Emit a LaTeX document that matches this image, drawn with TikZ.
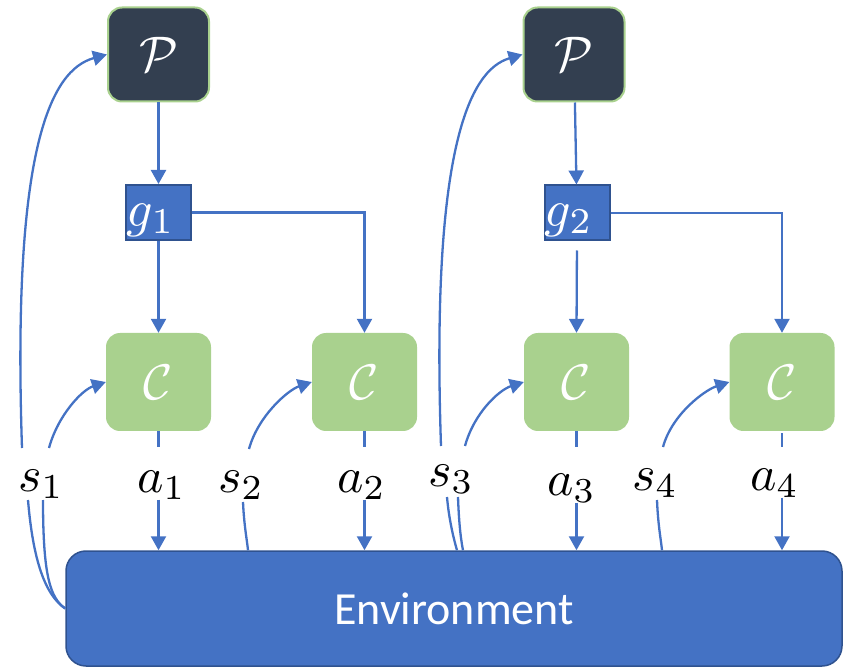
\documentclass[tikz,border=0pt]{standalone}
\usepackage{fontspec}
\newfontfamily\envfont{Carlito}
\usetikzlibrary{arrows.meta,calc}
\definecolor{lineblue}{HTML}{4472C4}
\definecolor{darkblue}{HTML}{2F528F}
\definecolor{softgreen}{HTML}{A9D18E}
\definecolor{navy}{HTML}{333F50}
\newcommand{\sizedmath}[2]{\scalebox{#1}{$#2$}}
\tikzset{
  conn/.style={draw=lineblue, line width=2.3pt},
  arr/.style={conn, -{Triangle[length=14pt,width=15pt]}},
  pbox/.style={fill=navy, draw=softgreen, line width=2pt, rounded corners=14pt,
    minimum width=101pt, minimum height=94pt, text=white, inner sep=0pt},
  cbox/.style={fill=softgreen, rounded corners=14pt, minimum width=105pt,
    minimum height=98pt, text=white, inner sep=0pt},
  gbox/.style={fill=lineblue, draw=darkblue, line width=2pt, minimum width=65pt,
    minimum height=55pt, inner sep=0pt},
  gtext/.style={text=white, inner sep=0pt},
  envbox/.style={fill=lineblue, draw=darkblue, line width=1.5pt, rounded corners=20pt,
    text=white, font=\envfont\fontsize{46}{50}\selectfont},
  lab/.style={anchor=base west, inner sep=0pt}
}
\begin{document}
\begin{tikzpicture}[x=1pt,y=-1pt]
\path[use as bounding box] (0,0) rectangle (844,668);

% policy and goal nodes
\node[pbox] (P1) at (158.5,54.5) {\sizedmath{5}{\mathcal{P}}};
\node[pbox] (P2) at (574,54.5) {\sizedmath{5}{\mathcal{P}}};
\node[gbox] (g1) at (158.5,212.5) {};
\node[gbox] (g2) at (577,213) {};
\node[gtext] (g1t) at (151,220) {\sizedmath{5.2}{g_1}};
\node[gtext] (g2t) at (569,220) {\sizedmath{5.2}{g_2}};

% controllers
\node[cbox] (C1) at (158.5,382) {\sizedmath{5}{\mathcal{C}}};
\node[cbox] (C2) at (364.5,382) {\sizedmath{5}{\mathcal{C}}};
\node[cbox] (C3) at (576.5,382) {\sizedmath{5}{\mathcal{C}}};
\node[cbox] (C4) at (782,382) {\sizedmath{5}{\mathcal{C}}};

% environment
\node[envbox, minimum width=776pt, minimum height=115pt] (env) at (454,608.5) {Environment};

% labels
\node[lab] (s1) at (18,491) {\sizedmath{5}{s_1}};
\node[lab] (a1) at (137,492) {\sizedmath{5}{a_1}};
\node[lab] (s2) at (218,492) {\sizedmath{5}{s_2}};
\node[lab] (a2) at (337,492) {\sizedmath{5}{a_2}};
\node[lab] (s3) at (428,486) {\sizedmath{5}{s_3}};
\node[lab] (a3) at (547,495) {\sizedmath{5}{a_3}};
\node[lab] (s4) at (632,490) {\sizedmath{5}{s_4}};
\node[lab] (a4) at (750,490) {\sizedmath{5}{a_4}};

% policy -> goal -> controllers
\draw[arr] (P1) -- (g1);
\draw[arr] (P2) -- (g2);
\draw[arr] (g1) -- (C1);
\draw[arr] (g1.east) -| (C2.north);
\draw[arr, shorten <=9pt] (g2.south) -- (C3.north);
\draw[arr] (g2.east) -| (C4.north);

% controller -> action -> environment
\draw[conn] (C1.south) -- ++(0,16);
\draw[conn] (C2.south) -- ++(0,16);
\draw[conn] (C3.south) -- ++(0,16);
\draw[conn] ([yshift=-2pt]C4.south) -- ++(0,14);
\draw[arr] (C1.south |- a1.south) -- (C1.south |- env.north);
\draw[arr] (C2.south |- a2.south) -- (C2.south |- env.north);
\draw[arr] (C3.south |- a3.south) -- (C3.south |- env.north);
\draw[arr] (C4.south |- a4.south) -- (C4.south |- env.north);

% states -> policy / controllers
\draw[arr] ($(s1.base west)+(4,-43)$) .. controls (12,150) and (50,70) .. (P1.west);
\draw[arr] ($(s3.base west)+(13,-40)$) .. controls (431,150) and (469,70) .. (P2.west);
\draw[arr] ($(s1.base west)+(31,-43)$) .. controls (58,415) and (82,390) .. (C1.west);
\draw[arr] ($(s2.base west)+(31,-43)$) .. controls (258,416) and (288,390) .. (C2.west);
\draw[arr] ($(s3.base west)+(37,-40)$) .. controls (474,413) and (499,390) .. (C3.west);
\draw[arr] ($(s4.base west)+(31,-43)$) .. controls (672,414) and (705,390) .. (C4.west);

% environment -> states
\draw[conn] ($(s1.base west)+(10,9)$) .. controls (33,560) and (45,595) .. (env.west);
\draw[conn] ($(s1.base west)+(25,9)$) .. controls (43,575) and (50,598) .. (env.west);
\draw[conn] ($(s2.base west)+(25,10)$) .. controls (244,525) and (247,540) .. ([xshift=-206pt]env.north);
\draw[conn] ($(s3.base west)+(19,11)$) .. controls (449,520) and (454,540) .. ([xshift=3pt]env.north);
\draw[conn] ($(s3.base west)+(30,11)$) .. controls (459,525) and (461,540) .. ([xshift=9pt]env.north);
\draw[conn] ($(s4.base west)+(25,10)$) .. controls (658,525) and (661,540) .. ([xshift=208pt]env.north);
\end{tikzpicture}
\end{document}
